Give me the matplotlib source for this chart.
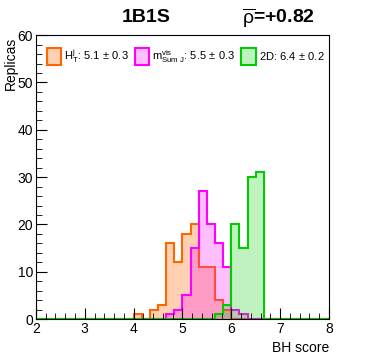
import numpy as np
import matplotlib
matplotlib.use("Agg")
import matplotlib.pyplot as plt
from matplotlib.patches import Patch
from matplotlib.ticker import MultipleLocator

plt.rcParams['font.family'] = ['Liberation Sans', 'DejaVu Sans']
plt.rcParams['mathtext.fontset'] = 'custom'
plt.rcParams['mathtext.rm'] = 'Liberation Sans'
plt.rcParams['mathtext.it'] = 'Liberation Sans:italic'
plt.rcParams['mathtext.bf'] = 'Liberation Sans:bold'

# 36 bins of width 1/6 between 2 and 8
edges = np.linspace(2, 8, 37)
ht_counts = [0] * 12 + [1, 0, 2, 3, 16, 12, 18, 20, 11, 11, 4, 2] + [0] * 12
msum_counts = [0] * 16 + [1, 2, 5, 15, 27, 20, 16, 11, 2, 1] + [0] * 10
twod_counts = [0] * 22 + [1, 3, 20, 15, 30, 31] + [0] * 8

labels = [r'H$_{\mathrm{T}}^{\mathrm{j}}$: 5.1$\,\pm\,$0.3',
          r'm$_{\mathrm{Sum\ J}}^{\mathrm{vis}}$: 5.5$\,\pm\,$0.3',
          r'2D: 6.4$\,\pm\,$0.2']
colors = ['#ff6600', '#ff00ff', '#00cc00']
fill_alpha = [0.3, 0.25, 0.25]

fig = plt.figure(figsize=(3.66, 3.55), dpi=100)
ax = fig.add_axes([0.098, 0.101, 0.801, 0.80])

handles = []
for counts, c, a, lab in zip([ht_counts, msum_counts, twod_counts], colors, fill_alpha, labels):
    ax.stairs(counts, edges, fill=True, color=c, alpha=a, lw=0)
    ax.stairs(counts, edges, baseline=0, color=c, lw=1.5)
    handles.append(Patch(facecolor=matplotlib.colors.to_rgba(c, a), edgecolor=c, lw=1.5, label=lab))

ax.set_xlim(2, 8)
ax.set_ylim(0, 60)
ax.xaxis.set_major_locator(MultipleLocator(1))
ax.xaxis.set_minor_locator(MultipleLocator(0.2))
ax.yaxis.set_major_locator(MultipleLocator(10))
ax.yaxis.set_minor_locator(MultipleLocator(2))
ax.tick_params(which='both', direction='in', labelsize=10, pad=2)
ax.tick_params(which='major', length=8)
ax.tick_params(which='minor', length=4)
for s in ax.spines.values():
    s.set_linewidth(0.8)

fig.text(0.03, 0.897, 'Replicas', fontsize=10, rotation=90, ha='center', va='top')
ax.set_xlabel('BH score', fontsize=10, loc='right', labelpad=4)

ax.legend(handles=handles, ncol=3, loc='upper left', bbox_to_anchor=(0.01, 0.985),
          frameon=False, fontsize=8, handlelength=1.3, handleheight=2.0,
          handletextpad=0.3, columnspacing=0.5, borderaxespad=0.3)

fig.text(0.40, 0.95, '1B1S', fontsize=14, fontweight='bold', ha='center', va='center')
fig.text(0.76, 0.95, r'$\overline{\mathrm{ρ}}$=+0.82', fontsize=14, fontweight='bold',
         ha='center', va='center')

fig.savefig('out.png', dpi=100)
